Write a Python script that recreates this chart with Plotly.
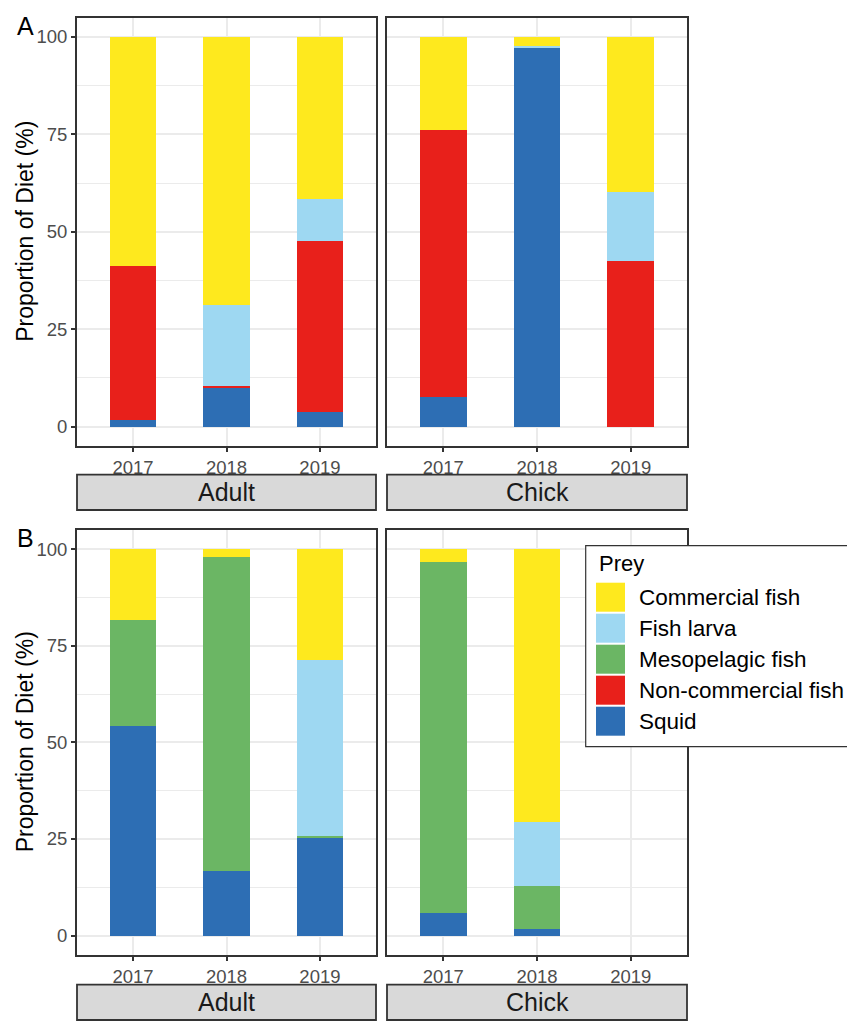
import plotly.graph_objects as go

# ---------------- data ----------------
years = ["2017", "2018", "2019"]
prey_stack = ["Squid", "Non-commercial fish", "Mesopelagic fish", "Fish larva", "Commercial fish"]
prey_legend = ["Commercial fish", "Fish larva", "Mesopelagic fish", "Non-commercial fish", "Squid"]
prey_colors = {
    "Commercial fish": "#FEE91E",
    "Fish larva": "#9ED8F2",
    "Mesopelagic fish": "#6BB664",
    "Non-commercial fish": "#E8201B",
    "Squid": "#2D6EB4",
}

# Panel A - Adult
A_ADULT_SQUID = [1.7, 10.1, 3.8]
A_ADULT_NONCOMM = [39.5, 0.3, 43.8]
A_ADULT_MESO = [0, 0, 0]
A_ADULT_LARVA = [0, 20.8, 10.7]
A_ADULT_COMM = [58.8, 68.8, 41.7]
# Panel A - Chick
A_CHICK_SQUID = [7.6, 97.1, 0]
A_CHICK_NONCOMM = [68.5, 0, 42.5]
A_CHICK_MESO = [0, 0, 0]
A_CHICK_LARVA = [0, 0.6, 17.7]
A_CHICK_COMM = [23.9, 2.3, 39.8]
# Panel B - Adult
B_ADULT_SQUID = [54.3, 16.8, 25.4]
B_ADULT_NONCOMM = [0, 0, 0]
B_ADULT_MESO = [27.4, 81.1, 0.5]
B_ADULT_LARVA = [0, 0, 45.4]
B_ADULT_COMM = [18.3, 2.1, 28.7]
# Panel B - Chick
B_CHICK_SQUID = [5.9, 1.8, None]
B_CHICK_NONCOMM = [0, 0, None]
B_CHICK_MESO = [90.8, 11.1, None]
B_CHICK_LARVA = [0, 16.6, None]
B_CHICK_COMM = [3.3, 70.5, None]

y_ticks = [0, 25, 50, 75, 100]
strip_labels = ["Adult", "Chick"]
row_labels = ["A", "B"]

panels = [
    [A_ADULT_SQUID, A_ADULT_NONCOMM, A_ADULT_MESO, A_ADULT_LARVA, A_ADULT_COMM],
    [A_CHICK_SQUID, A_CHICK_NONCOMM, A_CHICK_MESO, A_CHICK_LARVA, A_CHICK_COMM],
    [B_ADULT_SQUID, B_ADULT_NONCOMM, B_ADULT_MESO, B_ADULT_LARVA, B_ADULT_COMM],
    [B_CHICK_SQUID, B_CHICK_NONCOMM, B_CHICK_MESO, B_CHICK_LARVA, B_CHICK_COMM],
]

# ---------------- layout geometry (window pixels) ----------------
OFF = 8  # default page margin around the plot div
W, H = 855 - OFF, 1021 - OFF
FONT = "Liberation Sans, Arial, Helvetica, sans-serif"
col_px = [(77, 376), (387, 687)]
row_px = [(17.5, 446), (529.7, 955)]
strip_px = [(474.7, 510), (984.7, 1020)]


def px(x):
    return (x - OFF) / W


def py(y):
    return 1 - (y - OFF) / H


fig = go.Figure()
layout = dict(
    width=W, height=H,
    margin=dict(l=0, r=0, t=0, b=0),
    paper_bgcolor="white", plot_bgcolor="white",
    barmode="stack", showlegend=False,
    font=dict(family=FONT, color="#1A1A1A"),
)

shapes = []
annotations = []
GRID = "#EBEBEB"
BORDER = "#333333"
TICKSIZE = 18.5

for r in range(2):
    for c in range(2):
        idx = r * 2 + c + 1
        xa = "x" if idx == 1 else f"x{idx}"
        ya = "y" if idx == 1 else f"y{idx}"
        series = panels[idx - 1]
        for name, vals in zip(prey_stack, series):
            fig.add_trace(go.Bar(
                x=years, y=vals, name=name, width=0.5,
                marker=dict(color=prey_colors[name], line=dict(width=0)),
                xaxis=xa, yaxis=ya, showlegend=False,
            ))
        x0, x1 = col_px[c]
        y0, y1 = row_px[r]
        layout["xaxis" if idx == 1 else f"xaxis{idx}"] = dict(
            domain=[px(x0), px(x1)], anchor=ya,
            type="category", categoryorder="array", categoryarray=years,
            range=[-0.6, 2.6],
            showgrid=True, gridcolor=GRID, gridwidth=1.6,
            showline=True, mirror=True, linecolor=BORDER, linewidth=1.8,
            ticks="outside", ticklen=4, tickwidth=1.5, tickcolor=BORDER,
            tickfont=dict(size=TICKSIZE, color="#4D4D4D", family=FONT),
            zeroline=False, fixedrange=True,
        )
        layout["yaxis" if idx == 1 else f"yaxis{idx}"] = dict(
            domain=[py(y1), py(y0)], anchor=xa,
            range=[-5, 105], tickmode="array", tickvals=y_ticks,
            showgrid=True, gridcolor=GRID, gridwidth=1.6,
            minor=dict(tickvals=[12.5, 37.5, 62.5, 87.5], showgrid=True,
                       gridcolor=GRID, gridwidth=0.8, ticks=""),
            showline=True, mirror=True, linecolor=BORDER, linewidth=1.8,
            ticks="outside" if c == 0 else "", ticklen=4, tickwidth=1.5, tickcolor=BORDER,
            showticklabels=(c == 0),
            tickfont=dict(size=TICKSIZE, color="#4D4D4D", family=FONT),
            zeroline=False, fixedrange=True,
        )
        # strip
        s0, s1 = strip_px[r]
        shapes.append(dict(type="rect", xref="paper", yref="paper",
                           x0=px(x0), x1=px(x1), y0=py(s1), y1=py(s0),
                           fillcolor="#D9D9D9", line=dict(color=BORDER, width=1.8),
                           layer="above"))
        annotations.append(dict(xref="paper", yref="paper",
                                x=px((x0 + x1) / 2), y=py((s0 + s1) / 2),
                                text=strip_labels[c], showarrow=False,
                                xanchor="center", yanchor="middle",
                                font=dict(size=25, color="#1A1A1A", family=FONT)))
    # y-axis title
    y0, y1 = row_px[r]
    annotations.append(dict(xref="paper", yref="paper",
                            x=px(25), y=py((y0 + y1) / 2),
                            text="Proportion of Diet (%)", textangle=-90,
                            showarrow=False, xanchor="center", yanchor="middle",
                            font=dict(size=23, color="black", family=FONT)))
    # row tag
    annotations.append(dict(xref="paper", yref="paper",
                            x=px(25), y=py(row_px[r][0] + 8),
                            text=row_labels[r], showarrow=False,
                            xanchor="center", yanchor="middle",
                            font=dict(size=25, color="black", family=FONT)))

# ---------------- legend (drawn in paper space) ----------------
LX0, LX1, LY0, LY1 = 585.7, 851, 545.7, 746.7
shapes.append(dict(type="rect", xref="paper", yref="paper",
                   x0=px(LX0), x1=px(LX1), y0=py(LY1), y1=py(LY0),
                   fillcolor="white", line=dict(color=BORDER, width=1.2), layer="above"))
annotations.append(dict(xref="paper", yref="paper", x=px(596.5), y=py(563),
                        text="Prey", showarrow=False, xanchor="left", yanchor="middle",
                        font=dict(size=22, color="black", family=FONT)))
for i, name in enumerate(prey_legend):
    top = 582.7 + i * 31
    shapes.append(dict(type="rect", xref="paper", yref="paper",
                       x0=px(596), x1=px(625), y0=py(top + 29), y1=py(top),
                       fillcolor=prey_colors[name], line=dict(width=0), layer="above"))
    annotations.append(dict(xref="paper", yref="paper", x=px(636.5), y=py(top + 14.5),
                            text=name, showarrow=False, xanchor="left", yanchor="middle",
                            font=dict(size=22.5, color="black", family=FONT)))

layout["shapes"] = shapes
layout["annotations"] = annotations
fig.update_layout(**layout)
fig.write_html("out.html")
